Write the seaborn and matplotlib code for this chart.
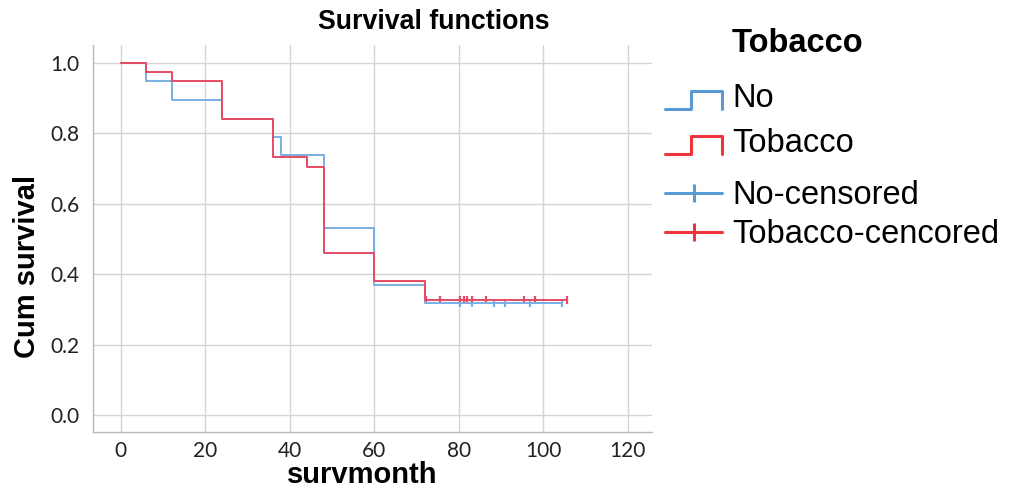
import matplotlib
matplotlib.use("Agg")
import matplotlib.pyplot as plt
import numpy as np
import pandas as pd
import seaborn as sns
from matplotlib.lines import Line2D
from matplotlib.legend_handler import HandlerBase

# Kaplan-Meier step values per group (time of step, survival after step)
no_times = [0, 6, 12, 24, 36, 38, 48, 60, 72, 104.5]
no_surv = [1.0, 0.947, 0.895, 0.84, 0.79, 0.737, 0.53, 0.37, 0.318, 0.318]
tob_times = [0, 6, 12, 24, 36, 44, 48, 60, 72, 105.5]
tob_surv = [1.0, 0.974, 0.947, 0.84, 0.733, 0.705, 0.46, 0.38, 0.327, 0.327]

# Censored observation times
no_censored = [80.3, 83.1, 88.2, 91.0, 96.9, 104.5]
tob_censored = [72.3, 75.6, 80.3, 81.1, 82.0, 83.1, 86.3, 95.3, 97.9, 105.5]

x_ticks = [0, 20, 40, 60, 80, 100, 120]
y_ticks = [0.0, 0.2, 0.4, 0.6, 0.8, 1.0]

BLUE = "#7aaee3"
RED = "#e84a64"
BLUE_LEG = "#5b9bd5"
RED_LEG = "#f0343c"

sns.set_style("white")
plt.rcParams["font.family"] = ["Liberation Sans", "DejaVu Sans"]
plt.rcParams["text.color"] = "black"
plt.rcParams["axes.labelcolor"] = "black"

steps = pd.concat([
    pd.DataFrame({"month": no_times, "surv": no_surv, "group": "No"}),
    pd.DataFrame({"month": tob_times, "surv": tob_surv, "group": "Tobacco"}),
], ignore_index=True)

cens = pd.concat([
    pd.DataFrame({"month": no_censored, "surv": no_surv[-1], "group": "No"}),
    pd.DataFrame({"month": tob_censored, "surv": tob_surv[-1], "group": "Tobacco"}),
], ignore_index=True)

palette = {"No": BLUE, "Tobacco": RED}

fig = plt.figure(figsize=(10.1, 4.9), dpi=100)
ax = fig.add_axes([0.092, 0.118, 0.554, 0.79])

sns.lineplot(data=steps, x="month", y="surv", hue="group", palette=palette,
             drawstyle="steps-post", estimator=None, sort=False,
             linewidth=1.4, ax=ax, legend=False)
sns.scatterplot(data=cens, x="month", y="surv", hue="group", palette=palette,
                marker="|", s=30, linewidth=1.6, ax=ax, legend=False)

ax.set_xlim(-6.6, 125.8)
ax.set_ylim(-0.048, 1.05)
ax.set_xticks(x_ticks)
ax.set_yticks(y_ticks)
ax.set_yticklabels([f"{v:.1f}" for v in y_ticks])
ax.grid(True, color="#d4d4d4", linewidth=1.0)
ax.set_axisbelow(True)
for side in ("top", "right"):
    ax.spines[side].set_visible(False)
for side in ("left", "bottom"):
    ax.spines[side].set_color("#b8b8b8")
    ax.spines[side].set_linewidth(1.0)
ax.tick_params(axis="both", length=0, labelsize=15, colors="#222222")
ax.tick_params(axis="x", pad=6)
ax.tick_params(axis="y", pad=10)
for lab in ax.get_xticklabels() + ax.get_yticklabels():
    lab.set_family(["Lato", "DejaVu Sans"])

ax.set_xlabel("survmonth", fontsize=21, fontweight="bold")
ax.xaxis.set_label_coords((362 - 93) / 559, (432 - 483) / 387)
ax.xaxis.label.set_va("baseline")
ax.set_ylabel("Cum survival", fontsize=21, fontweight="bold")
ax.yaxis.set_label_coords((27 - 93) / 559, (432 - 266) / 387)
ax.yaxis.label.set_va("center")
ax.yaxis.label.set_rotation_mode("default")

fig.text(434 / 1010, 1 - 22 / 490, "Survival functions", fontsize=19.3,
         fontweight="bold", ha="center", va="center")


class StepHandler(HandlerBase):
    def create_artists(self, legend, orig_handle, xdescent, ydescent,
                       width, height, fontsize, trans):
        x0, y0 = -xdescent, -ydescent
        xm = x0 + 0.45 * width
        lo, hi = y0 - 0.1 * height, y0 + 0.7 * height
        xs = [x0, xm, xm, x0 + width, x0 + width]
        ys = [lo, lo, hi, hi, lo]
        line = Line2D(xs, ys, color=orig_handle.get_color(),
                      linewidth=orig_handle.get_linewidth(), transform=trans)
        return [line]


step_handles = [Line2D([], [], color=BLUE_LEG, linewidth=2.2),
                Line2D([], [], color=RED_LEG, linewidth=2.2)]
leg1 = fig.legend(step_handles, ["No", "Tobacco"],
                  handler_map={Line2D: StepHandler()},
                  loc="upper left", bbox_to_anchor=(0.6455, 0.858),
                  frameon=False, fontsize=23.5, handlelength=1.75,
                  handletextpad=0.31, labelspacing=0.43, borderaxespad=0)

cens_handles = [Line2D([], [], color=BLUE_LEG, linewidth=2.2, marker="|",
                       markersize=13, markeredgewidth=2.2),
                Line2D([], [], color=RED_LEG, linewidth=2.2, marker="|",
                       markersize=13, markeredgewidth=2.2)]
leg2 = fig.legend(cens_handles, ["No-censored", "Tobacco-cencored"],
                  loc="upper left", bbox_to_anchor=(0.6455, 0.659),
                  frameon=False, fontsize=23.5, handlelength=1.75,
                  handletextpad=0.31, labelspacing=0.25, borderaxespad=0,
                  numpoints=1)

fig.text(732 / 1010, 1 - 43 / 490, "Tobacco", fontsize=23.5,
         fontweight="bold", ha="left", va="center")

fig.savefig("out.png", dpi=100)
